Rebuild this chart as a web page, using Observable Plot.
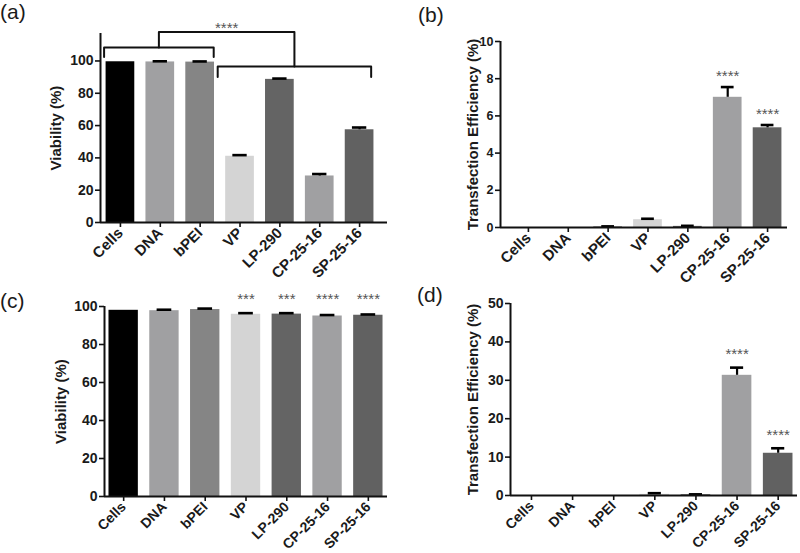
<!DOCTYPE html>
<html><head><meta charset="utf-8">
<script src="https://cdn.jsdelivr.net/npm/d3@7"></script>
<script src="https://cdn.jsdelivr.net/npm/@observablehq/plot@0.6"></script>
<style>
body{margin:0;background:#fff;}
#fig{position:relative;width:800px;height:553px;overflow:hidden;background:#fff;font-family:"Liberation Sans",Arial,sans-serif;}
.panel{position:absolute;}
.tag{position:absolute;font-size:21px;color:#1a1a1a;line-height:1;}
</style></head><body><div id="fig"></div>
<script>
// ---- data ----
const categories = ["Cells", "DNA", "bPEI", "VP", "LP-290", "CP-25-16", "SP-25-16"];
const barColors = ["#000000", "#a0a0a2", "#858585", "#d4d4d4", "#646464", "#a0a0a2", "#616161"];

const viabilityA = [99.5, 99.4, 99.3, 41.0, 88.6, 28.8, 57.4];
const viabilityAErr = [0, 0.4, 0.4, 0.7, 0.5, 1.2, 1.4];
const bracketGroups = [[0, 2], [3, 6]];
const bracketLabel = "****";

const transfectionB = [0, 0, 0.04, 0.42, 0.06, 7.0, 5.36];
const transfectionBErr = [0, 0, 0.02, 0.05, 0.03, 0.55, 0.15];
const starsB = ["", "", "", "", "", "****", "****"];

const viabilityC = [98.0, 97.8, 98.4, 95.9, 96.0, 95.0, 95.4];
const viabilityCErr = [0, 0.5, 0.5, 0.6, 0.5, 0.5, 0.4];
const starsC = ["", "", "", "***", "***", "****", "****"];

const transfectionD = [0, 0, 0, 0.3, 0.2, 31.3, 11.0];
const transfectionDErr = [0, 0, 0, 0.3, 0.1, 2.0, 1.3];
const starsD = ["", "", "", "", "", "****", "****"];

const yTicksA = [0, 20, 40, 60, 80, 100];
const yTicksB = [0, 2, 4, 6, 8, 10];
const yTicksC = [0, 20, 40, 60, 80, 100];
const yTicksD = [0, 10, 20, 30, 40, 50];

const titleViability = "Viability (%)";
const titleTransfection = "Transfection Efficiency (%)";
const panelTags = ["(a)", "(b)", "(c)", "(d)"];

// ---- drawing ----
const fig = document.getElementById("fig");
const idx = d3.range(categories.length);
const FONT = '"Liberation Sans", Arial, sans-serif';

function makePanel(o) {
  const hw = 0.36;
  const withErr = idx.filter(i => o.errors[i] > 0);
  const marks = [
    Plot.rectY(idx, {x1: i => i - hw, x2: i => i + hw, y1: 0, y2: i => o.values[i], fill: i => barColors[i]}),
    Plot.ruleX(withErr, {x: i => i, y1: i => o.values[i], y2: i => o.values[i] + o.errors[i], stroke: "#000", strokeWidth: 2.2}),
    Plot.ruleY(withErr, {y: i => o.values[i] + o.errors[i], x1: i => i - o.cap, x2: i => i + o.cap, stroke: "#000", strokeWidth: 2.6}),
    Plot.ruleY([0], {stroke: "#111", strokeWidth: 2}),
    Plot.ruleX([o.xDomain[0]], {y1: 0, y2: o.yTop, stroke: "#111", strokeWidth: 2}),
    Plot.axisY({ticks: o.yTicks, tickSize: 5, tickPadding: 2, fontSize: o.yFont, fontWeight: "bold", label: null, strokeWidth: 1.6, stroke: "#111"}),
    Plot.axisX({ticks: idx, tickFormat: i => categories[i], tickRotate: -45, tickSize: 5, tickPadding: 3, fontSize: o.xFont, fontWeight: "bold", label: null, strokeWidth: 1.6, stroke: "#111"}),
    Plot.text([o.title], {x: () => o.xDomain[0], y: () => o.yTop / 2, text: d => d, rotate: -90, dx: o.titleDx, fontSize: 15, fontWeight: "bold", fill: "#1a1a1a", textAnchor: "middle"})
  ];
  if (o.stars) {
    const starIdx = idx.filter(i => o.stars[i]);
    if (o.starY != null) {
      marks.push(Plot.text(starIdx, {x: i => i, y: () => o.starY, text: i => o.stars[i], fontSize: 15, fill: "#555"}));
    } else {
      marks.push(Plot.text(starIdx, {x: i => i, y: i => o.values[i] + o.errors[i], dy: o.starDy, text: i => o.stars[i], fontSize: 15, fill: "#555"}));
    }
  }
  if (o.extra) marks.push(...o.extra);
  const svg = Plot.plot({
    width: o.width, height: o.height,
    marginLeft: o.ml, marginRight: o.mr, marginTop: o.mt, marginBottom: o.mb,
    x: {domain: o.xDomain, axis: null},
    y: {domain: [0, o.yTop], axis: null},
    color: {type: "identity"},
    style: {background: "transparent", color: "#1a1a1a", fontFamily: FONT, overflow: "visible"},
    marks
  });
  svg.classList.add("panel");
  svg.style.left = o.left + "px";
  svg.style.top = o.top + "px";
  fig.appendChild(svg);
}

// bracket geometry for panel (a)
const [gA, gB] = bracketGroups;
const b1 = {x1: gA[0] - 0.41, x2: gA[1] + 0.34, y: 108.3, leg: 102.5};
const b2 = {x1: gB[0] - 0.56, x2: gB[1] + 0.29, y: 96.5, leg: 90};
const m1 = (b1.x1 + b1.x2) / 2, m2 = (b2.x1 + b2.x2) / 2, topY = 118;
const bracketLines = [
  [[b1.x1, b1.leg], [b1.x1, b1.y], [b1.x2, b1.y], [b1.x2, b1.leg]],
  [[b2.x1, b2.leg], [b2.x1, b2.y], [b2.x2, b2.y], [b2.x2, b2.leg]],
  [[m1, b1.y], [m1, topY], [m2, topY], [m2, b2.y]]
];
const bracketMarks = bracketLines.map(pts => Plot.line(pts, {x: d => d[0], y: d => d[1], stroke: "#111", strokeWidth: 2, curve: "linear"}));
bracketMarks.push(Plot.text([bracketLabel], {x: () => (m1 + m2) / 2, y: () => 120, text: d => d, fontSize: 15, fill: "#555"}));

makePanel({left: 0, top: 0, width: 400, height: 275, ml: 100, mr: 13, mt: 33, mb: 53,
  xDomain: [-0.5, 6.7], yTop: 117, yTicks: yTicksA, yFont: 14, xFont: 15, values: viabilityA, errors: viabilityAErr,
  cap: 0.18, title: titleViability, titleDx: -44, extra: bracketMarks});

makePanel({left: 400, top: 0, width: 400, height: 275, ml: 100, mr: 13, mt: 41, mb: 48,
  xDomain: [-0.7, 6.5], yTop: 10, yTicks: yTicksB, yFont: 12.5, xFont: 15, values: transfectionB, errors: transfectionBErr,
  cap: 0.16, title: titleTransfection, titleDx: -27, stars: starsB, starDy: -11});

makePanel({left: 0, top: 275, width: 400, height: 278, ml: 104, mr: 13, mt: 31, mb: 57,
  xDomain: [-0.47, 6.47], yTop: 100, yTicks: yTicksC, yFont: 14, xFont: 14, values: viabilityC, errors: viabilityCErr,
  cap: 0.18, title: titleViability, titleDx: -43, stars: starsC, starY: 103.6});

makePanel({left: 400, top: 275, width: 400, height: 278, ml: 110, mr: 3, mt: 28, mb: 58,
  xDomain: [-0.51, 6.47], yTop: 50, yTicks: yTicksD, yFont: 14, xFont: 14, values: transfectionD, errors: transfectionDErr,
  cap: 0.16, title: titleTransfection, titleDx: -37, stars: starsD, starDy: -13});

// panel tags
const tagPos = [[0, 1], [418, 4], [0, 290], [417, 284]];
panelTags.forEach((t, k) => {
  const d = document.createElement("div");
  d.className = "tag";
  d.textContent = t;
  d.style.left = tagPos[k][0] + "px";
  d.style.top = tagPos[k][1] + "px";
  fig.appendChild(d);
});
</script></body></html>
